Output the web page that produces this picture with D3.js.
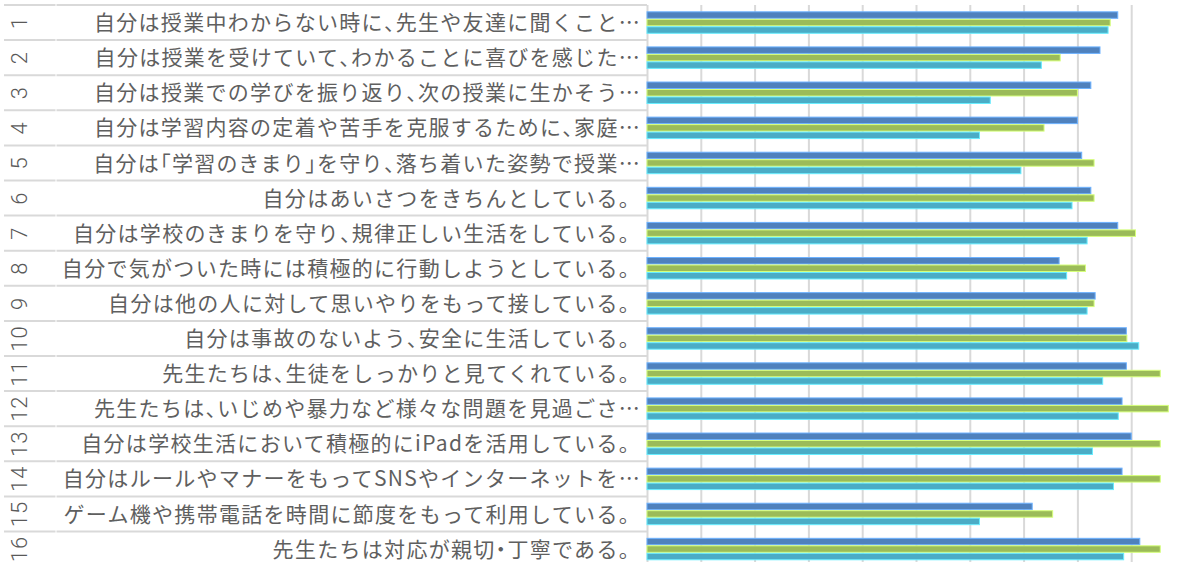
<!DOCTYPE html>
<html>
	<head>
		<meta http-equiv='Content-Type' content='text/html;charset=utf-8'/>
		<title>アンケート結果</title>
		<script src='https://d3js.org/d3.v7.min.js'></script>
		<style>
			body { margin: 0; background: #ffffff; }
			svg { display: block; }
			.punct { font-feature-settings: 'halt'; }
		</style>
	</head>

	<body>
		<script>
		'use strict'

		// row numbers (outer category)
		const ids = ['1', '2', '3', '4', '5', '6', '7', '8', '9', '10', '11', '12', '13', '14', '15', '16']

		// question labels, cut off as in the chart
		const labels = [
			'自分は授業中わからない時に、先生や友達に聞くこと…',
			'自分は授業を受けていて、わかることに喜びを感じた…',
			'自分は授業での学びを振り返り、次の授業に生かそう…',
			'自分は学習内容の定着や苦手を克服するために、家庭…',
			'自分は「学習のきまり」を守り、落ち着いた姿勢で授業…',
			'自分はあいさつをきちんとしている。',
			'自分は学校のきまりを守り、規律正しい生活をしている。',
			'自分で気がついた時には積極的に行動しようとしている。',
			'自分は他の人に対して思いやりをもって接している。',
			'自分は事故のないよう、安全に生活している。',
			'先生たちは、生徒をしっかりと見てくれている。',
			'先生たちは、いじめや暴力など様々な問題を見過ごさ…',
			'自分は学校生活において積極的にiPadを活用している。',
			'自分はルールやマナーをもってSNSやインターネットを…',
			'ゲーム機や携帯電話を時間に節度をもって利用している。',
			'先生たちは対応が親切・丁寧である。'
		]

		// three series, values (%)
		const seriesA = [87.5, 84.2, 82.5, 80.0, 80.8, 82.5, 87.5, 76.6, 83.3, 89.1, 89.1, 88.3, 90.0, 88.3, 71.6, 91.6]
		const seriesB = [86.1, 76.8, 80.0, 73.8, 83.1, 83.1, 90.8, 81.5, 83.1, 89.2, 95.4, 96.9, 95.4, 95.4, 75.4, 95.4]
		const seriesC = [85.7, 73.3, 63.8, 61.8, 69.5, 79.0, 81.8, 78.0, 81.8, 91.4, 84.7, 87.6, 82.8, 86.7, 61.8, 88.6]

		const seriesNames = ['A', 'B', 'C']
		const colors = ['#4f81bd', '#9bbb59', '#4bacc6']

		// gridline values
		const xTicks = [0, 10, 20, 30, 40, 50, 60, 70, 80, 90, 100]

		const width = 1181
		const height = 562
		const plot = {left: 647, right: 1185, top: 5, bottom: 566.6}

		const svg = d3.select('body').append('svg')
			.attr('width', width)
			.attr('height', height)
			.style('font-family', "'Noto Sans CJK JP', 'Noto Sans', sans-serif")

		const x = d3.scaleLinear()
			.domain([0, 100])
			.range([plot.left, plot.right])

		const y = d3.scaleBand()
			.domain(ids)
			.range([plot.top, plot.bottom])
			.paddingInner(0.36)
			.paddingOuter(0.18)

		const ySub = d3.scaleBand()
			.domain(seriesNames)
			.range([0, y.bandwidth()])

		const rows = ids.map(function(id, i) {
			return {id: id, label: labels[i], values: [seriesA[i], seriesB[i], seriesC[i]]}
		})

		drawGrid()
		drawRowLines()
		drawBars()
		drawLabels()

		/**
		 * drawGrid
		 * Vertical gridlines, the one at 0 doubles as the axis line.
		 */
		function drawGrid()
		{
			const grid = svg.append('g')
				.attr('transform', 'translate(0,' + plot.top + ')')
				.call(d3.axisBottom(x)
					.tickValues(xTicks)
					.tickSize(height - plot.top)
					.tickFormat(''))
			grid.select('.domain').remove()
			grid.selectAll('.tick line')
				.attr('stroke', '#d9d9d9')
				.attr('stroke-width', 2)
		}

		/**
		 * drawRowLines
		 * Horizontal separators between the categories.
		 */
		function drawRowLines()
		{
			const step = y.step()
			const edges = ids.map(function(id) { return y(id) - y.paddingOuter() * step })
			edges.push(edges[edges.length - 1] + step)

			const g = svg.append('g')
			g.selectAll('line.num')
				.data(edges)
				.join('line')
				.attr('class', 'num')
				.attr('x1', 4)
				.attr('x2', 55.5)
				.attr('y1', function(d) { return d })
				.attr('y2', function(d) { return d })
				.attr('stroke', '#d9d9d9')
				.attr('stroke-width', 2)
			g.selectAll('line.lab')
				.data(edges)
				.join('line')
				.attr('class', 'lab')
				.attr('x1', 56.5)
				.attr('x2', plot.left)
				.attr('y1', function(d) { return d })
				.attr('y2', function(d) { return d })
				.attr('stroke', '#d9d9d9')
				.attr('stroke-width', 2)
		}

		/**
		 * drawBars
		 * Three bars per row.
		 */
		function drawBars()
		{
			const groups = svg.append('g')
				.selectAll('g')
				.data(rows)
				.join('g')
				.attr('transform', function(d) { return 'translate(0,' + y(d.id) + ')' })

			groups.selectAll('rect')
				.data(function(d) {
					return d.values.map(function(v, k) { return {key: seriesNames[k], value: v, k: k} })
				})
				.join('rect')
				.attr('x', x(0))
				.attr('y', function(d) { return ySub(d.key) + 0.5 })
				.attr('width', function(d) { return x(d.value) - x(0) })
				.attr('height', ySub.bandwidth() - 1)
				.attr('fill', function(d) { return colors[d.k] })
				.attr('stroke', function(d) { return d3.color(colors[d.k]).brighter(0.9) })
				.attr('stroke-width', 1)
		}

		/**
		 * splitPunct
		 * Cut a label into runs so that the brackets and commas can be set half width.
		 * @param {String} label
		 * @returns {Array} runs {t, p}
		 */
		function splitPunct(label)
		{
			const runs = []
			for (const ch of label)
			{
				const p = '、「」・'.includes(ch)
				if (runs.length && runs[runs.length - 1].p == p)
					runs[runs.length - 1].t += ch
				else
					runs.push({t: ch, p: p})
			}
			return runs
		}

		/**
		 * drawLabels
		 * Rotated row numbers and the question text.
		 */
		function drawLabels()
		{
			const mid = function(d) { return y(d.id) + y.bandwidth() / 2 }

			svg.append('g')
				.selectAll('text')
				.data(rows)
				.join('text')
				.attr('transform', function(d) { return 'translate(19,' + mid(d) + ') rotate(-90)' })
				.attr('text-anchor', 'middle')
				.attr('dy', '0.36em')
				.attr('fill', '#595959')
				.attr('font-size', 22)
				.attr('font-weight', 300)
				.style('font-family', "Roboto, 'Open Sans', sans-serif")
				.style('letter-spacing', '1px')
				.text(function(d) { return d.id })

			svg.append('g')
				.selectAll('text')
				.data(rows)
				.join('text')
				.attr('x', 641)
				.attr('y', mid)
				.attr('dy', '0.36em')
				.attr('text-anchor', 'end')
				.attr('fill', '#5f5f5f')
				.attr('font-size', 21)
				.style('letter-spacing', '1.3px')
				.selectAll('tspan')
				.data(function(d) { return splitPunct(d.label) })
				.join('tspan')
				.attr('class', function(d) { return d.p ? 'punct' : null })
				.text(function(d) { return d.t })
		}
		</script>
	</body>
</html>
